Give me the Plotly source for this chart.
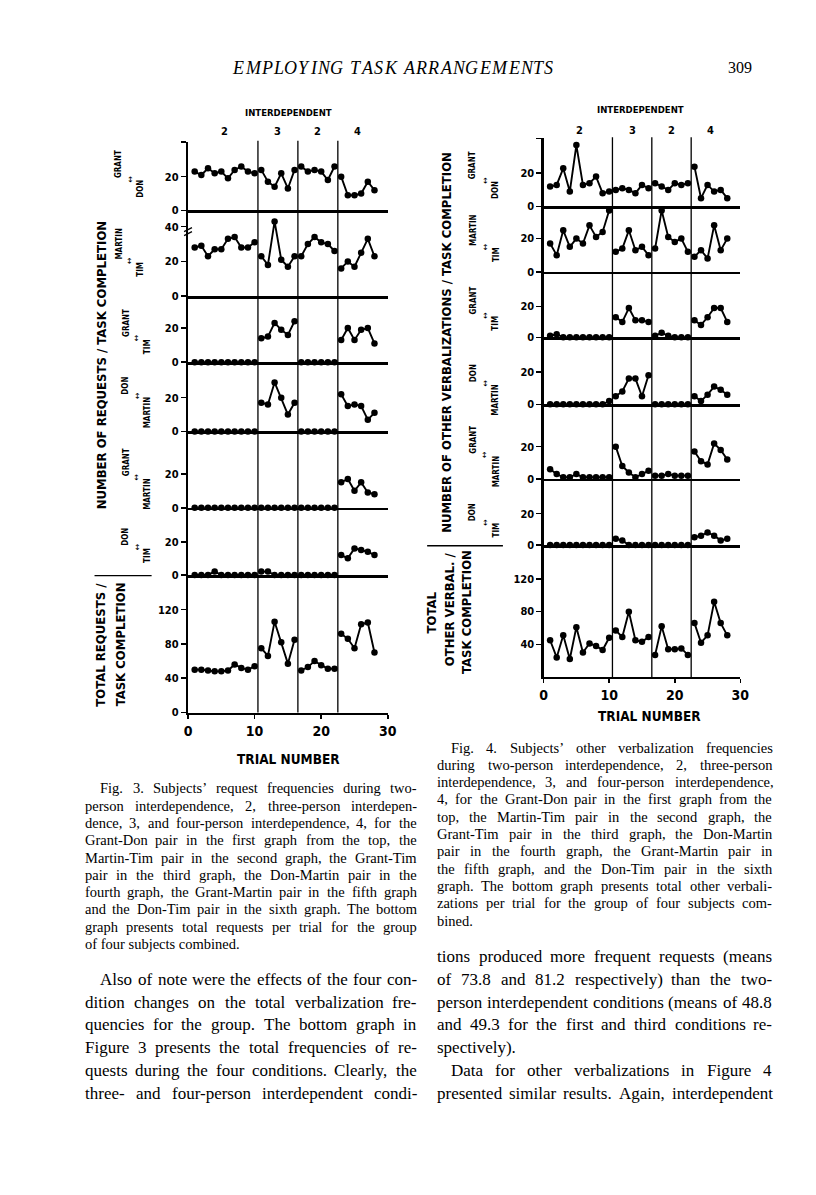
import plotly.graph_objects as go

W, H = 816, 1195

# ---------------- data ----------------
trials = list(range(1, 29))
phase_lengths = [10, 6, 6, 6]
phase_names = ["2", "3", "2", "4"]
phase_boundaries = [10.5, 16.5, 22.5]
x_ticks = [0, 10, 20, 30]

pair_names = [("GRANT", "DON"), ("MARTIN", "TIM"), ("GRANT", "TIM"),
              ("DON", "MARTIN"), ("GRANT", "MARTIN"), ("DON", "TIM")]

# Fig. 3 : requests / task completion
req_grant_don = [23, 21, 25, 22, 23, 19, 24, 26, 23, 22,
                 24, 17, 14, 22, 13, 24,
                 26, 23, 24, 23, 18, 26,
                 20, 9, 9, 10, 17, 12]
req_martin_tim = [28, 29, 23, 27, 27, 33, 34, 28, 28, 31,
                  23, 18, 43, 21, 17, 23,
                  23, 30, 34, 31, 30, 26,
                  16, 20, 17, 25, 33, 23]
req_grant_tim = [0, 0, 0, 0, 0, 0, 0, 0, 0, 0,
                 14, 15, 23, 19, 16, 24,
                 0, 0, 0, 0, 0, 0,
                 13, 20, 13, 19, 20, 11]
req_don_martin = [0, 0, 0, 0, 0, 0, 0, 0, 0, 0,
                  17, 16, 29, 20, 10, 17,
                  0, 0, 0, 0, 0, 0,
                  22, 15, 16, 15, 7, 11]
req_grant_martin = [0, 0, 0, 0, 0, 0, 0, 0, 0, 0,
                    0, 0, 0, 0, 0, 0,
                    0, 0, 0, 0, 0, 0,
                    15, 17, 10, 15, 9, 8]
req_don_tim = [0, 0, 0, 2, 0, 0, 0, 0, 0, 0,
               2, 2, 0, 0, 0, 0,
               0, 0, 0, 0, 0, 0,
               12, 10, 16, 15, 14, 12]
req_total = [50, 50, 49, 48, 48, 49, 56, 52, 50, 54,
             75, 66, 106, 82, 57, 85,
             49, 53, 60, 55, 51, 51,
             92, 86, 75, 103, 105, 70]

# Fig. 4 : other verbalizations / task completion
oth_grant_don = [12, 13, 23, 9, 37, 13, 14, 18, 8, 9,
                 10, 11, 10, 8, 13, 11,
                 14, 12, 10, 14, 13, 14,
                 24, 5, 13, 9, 10, 5]
oth_martin_tim = [17, 10, 25, 15, 20, 17, 28, 21, 24, 37,
                  12, 14, 25, 13, 15, 10,
                  14, 37, 21, 18, 20, 12,
                  9, 13, 8, 28, 13, 20]
oth_grant_tim = [1, 2, 0, 0, 0, 0, 0, 0, 0, 0,
                 13, 10, 19, 11, 11, 10,
                 1, 3, 1, 0, 0, 0,
                 11, 8, 13, 19, 19, 10]
oth_don_martin = [0, 0, 0, 0, 0, 0, 0, 0, 0, 2,
                  5, 8, 16, 16, 5, 18,
                  0, 0, 0, 0, 0, 0,
                  5, 2, 6, 11, 9, 6]
oth_grant_martin = [6, 3, 1, 1, 3, 1, 1, 1, 1, 1,
                    20, 8, 4, 1, 3, 5,
                    2, 2, 3, 2, 2, 2,
                    17, 11, 9, 22, 18, 12]
oth_don_tim = [0, 0, 0, 0, 0, 0, 0, 0, 0, 0,
               4, 3, 0, 0, 0, 0,
               0, 0, 0, 0, 0, 0,
               5, 6, 8, 6, 3, 4]
oth_total = [45, 24, 51, 22, 61, 30, 41, 38, 33, 48,
             57, 49, 80, 45, 43, 49,
             27, 62, 34, 34, 35, 27,
             66, 42, 51, 92, 66, 51]

fig3_series = [req_grant_don, req_martin_tim, req_grant_tim, req_don_martin,
               req_grant_martin, req_don_tim, req_total]
fig4_series = [oth_grant_don, oth_martin_tim, oth_grant_tim, oth_don_martin,
               oth_grant_martin, oth_don_tim, oth_total]

fig3_yticks = [[0, 20], [0, 20, 40], [0, 20], [0, 20], [0, 20], [0, 20], [0, 40, 80, 120]]
fig4_yticks = [[0, 20], [0, 20], [0, 20], [0, 20], [0, 20], [0, 20], [40, 80, 120]]

header_text = "EMPLOYING TASK ARRANGEMENTS"
page_number = "309"
fig3_ylabel = "NUMBER OF REQUESTS / TASK COMPLETION"
fig3_total_label = ["TOTAL REQUESTS /", "TASK COMPLETION"]
fig4_ylabel = "NUMBER OF OTHER VERBALIZATIONS / TASK COMPLETION"
fig4_total_label = ["TOTAL", "OTHER VERBAL. /", "TASK COMPLETION"]
condition_title = "INTERDEPENDENT"
xaxis_title = "TRIAL NUMBER"

caption3 = [
    "Fig. 3. Subjects’ request frequencies during two-",
    "person interdependence, 2, three-person interdepen-",
    "dence, 3, and four-person interdependence, 4, for the",
    "Grant-Don pair in the first graph from the top, the",
    "Martin-Tim pair in the second graph, the Grant-Tim",
    "pair in the third graph, the Don-Martin pair in the",
    "fourth graph, the Grant-Martin pair in the fifth graph",
    "and the Don-Tim pair in the sixth graph. The bottom",
    "graph presents total requests per trial for the group",
    "of four subjects combined.",
]
caption4 = [
    "Fig. 4. Subjects’ other verbalization frequencies",
    "during two-person interdependence, 2, three-person",
    "interdependence, 3, and four-person interdependence,",
    "4, for the Grant-Don pair in the first graph from the",
    "top, the Martin-Tim pair in the second graph, the",
    "Grant-Tim pair in the third graph, the Don-Martin",
    "pair in the fourth graph, the Grant-Martin pair in",
    "the fifth graph, and the Don-Tim pair in the sixth",
    "graph. The bottom graph presents total other verbali-",
    "zations per trial for the group of four subjects com-",
    "bined.",
]
body_left = [
    "Also of note were the effects of the four con-",
    "dition changes on the total verbalization fre-",
    "quencies for the group. The bottom graph in",
    "Figure 3 presents the total frequencies of re-",
    "quests during the four conditions. Clearly, the",
    "three- and four-person interdependent condi-",
]
body_right_1 = [
    "tions produced more frequent requests (means",
    "of 73.8 and 81.2 respectively) than the two-",
    "person interdependent conditions (means of 48.8",
    "and 49.3 for the first and third conditions re-",
    "spectively).",
]
body_right_2 = [
    "Data for other verbalizations in Figure 4",
    "presented similar results. Again, interdependent",
]

# ---------------- geometry (pixels) ----------------
NARROW = ("'Liberation Sans Narrow', 'DejaVu Sans Condensed', 'Roboto Condensed', "
          "'Arial Narrow', 'Liberation Sans', Roboto, sans-serif")
SERIF = "'Liberation Serif', 'DejaVu Serif', serif"


def px(x):
    return x / W


def py(y):
    return 1 - y / H


# (zero line px, top px, px per unit)
fig3_geo = [(211.7, 143.0, 1.70), (298.0, 211.7, 1.75), (364.3, 298.0, 1.715),
            (434.0, 364.3, 1.70), (510.7, 434.0, 1.70), (578.3, 510.7, 1.665),
            (716.7, 578.3, 0.862)]
fig4_geo = [(207.7, 139.3, 1.67), (273.3, 207.7, 1.665), (339.3, 273.3, 1.55),
            (406.7, 339.3, 1.62), (481.7, 406.7, 1.62), (548.3, 481.7, 1.58),
            (681.0, 548.3, 0.822)]
fig3_x = (187.0, 390.0)
fig4_x = (548.3, 748.3)

fig = go.Figure()
layout = dict(width=W, height=H, margin=dict(l=0, r=0, t=0, b=0),
              paper_bgcolor="white", plot_bgcolor="white", showlegend=False)
annotations = []
shapes = []


def seg(values):
    xs, ys, i = [], [], 0
    for L in phase_lengths:
        xs += trials[i:i + L] + [None]
        ys += values[i:i + L] + [None]
        i += L
    return xs, ys


def build(series, geo, xdom, yticks, offset, top_tick):
    n = len(series)
    for k in range(n):
        idx = offset + k + 1
        zero, top, scale = geo[k]
        rtop = (zero - top) / scale
        xs, ys = seg(series[k])
        fig.add_trace(go.Scatter(
            x=xs, y=ys, xaxis="x%d" % idx, yaxis="y%d" % idx,
            mode="lines+markers", cliponaxis=False, connectgaps=False,
            line=dict(color="black", width=1.9),
            marker=dict(color="black", size=6.5), hoverinfo="skip"))
        bottom = (k == n - 1)
        tv = list(yticks[k])
        tt = [str(v) for v in tv]
        if k == 0 and top_tick:
            tv.append(rtop)
            tt.append("")
        if bottom and offset == 7:
            tv.append(rtop)
            tt.append("")
        layout["xaxis%d" % idx] = dict(
            domain=[px(xdom[0]), px(xdom[1])], range=[0, 30], anchor="y%d" % idx,
            showline=True, linecolor="black", linewidth=2.6 if not bottom else 2.2,
            showgrid=False, zeroline=False,
            tickvals=x_ticks if bottom else [], showticklabels=bottom,
            ticks="outside" if bottom else "", ticklen=4, tickwidth=1.6, tickcolor="black",
            tickfont=dict(family=NARROW, size=14, color="black", weight="bold"),
            fixedrange=True)
        layout["yaxis%d" % idx] = dict(
            domain=[py(zero), py(top)], range=[0, rtop], anchor="x%d" % idx,
            showline=True, linecolor="black", linewidth=2.2, showgrid=False,
            zeroline=False, tickvals=tv, ticktext=tt, ticks="outside", ticklen=5,
            tickwidth=1.6, tickcolor="black",
            tickfont=dict(family=NARROW, size=11, color="black", weight="bold"),
            fixedrange=True)


build(fig3_series, fig3_geo, fig3_x, fig3_yticks, 0, True)
build(fig4_series, fig4_geo, fig4_x, fig4_yticks, 7, True)


def ann(x, y, text, size, family=NARROW, bold=True, angle=0, xanchor="center",
        yanchor="middle", xref="paper", italic=False):
    annotations.append(dict(
        x=x if xref != "paper" else px(x), y=py(y), xref=xref, yref="paper",
        text=text, showarrow=False, textangle=angle, xanchor=xanchor, yanchor=yanchor,
        font=dict(family=family, size=size, color="black",
                  weight="bold" if bold else "normal",
                  style="italic" if italic else "normal")))


def decorate(xref, top_px, bottom_px, title_xy, num_y, ylabel, ylabel_xy,
             total_lines, total_xy, pair_rows, pair_cols, sep, trial_xy):
    # phase change lines
    for b in phase_boundaries:
        shapes.append(dict(type="line", xref=xref, yref="paper", x0=b, x1=b,
                           y0=py(bottom_px), y1=py(top_px),
                           line=dict(color="black", width=1.3)))
    # condition labels
    ann(title_xy[0], title_xy[1], condition_title, 9.5)
    start = 0
    for L, name in zip(phase_lengths, phase_names):
        centre = (trials[start] + trials[start + L - 1]) / 2
        ann(centre, num_y, name, 11, xref=xref)
        start += L
    ann(ylabel_xy[0], ylabel_xy[1], ylabel, 13, angle=-90)
    for (tx, ty), t in zip(total_xy, total_lines):
        ann(tx, ty, t, 13, angle=-90)
    for r, (a, b) in enumerate(pair_names):
        yc = pair_rows[r]
        c1, c2, c3 = pair_cols[r]
        ann(c1, yc + 1, a, 8, angle=-90, yanchor="bottom")
        ann(c2, yc, "↔", 8.5, angle=-90, bold=False)
        ann(c3, yc - 1, b, 8, angle=-90, yanchor="top")
    shapes.append(dict(type="line", xref="paper", yref="paper",
                       x0=px(sep[0]), x1=px(sep[1]), y0=py(sep[2]), y1=py(sep[2]),
                       line=dict(color="black", width=1.4)))
    ann(trial_xy[0], trial_xy[1], xaxis_title, 13.5)


decorate("x7", 141.5, 716.7, (289, 113), 132, fig3_ylabel, (99, 367),
         fig3_total_label, [(98, 648), (118, 648)],
         [180, 262, 340, 398, 480, 550],
         [(117, 127.5, 139)] * 2 + [(124, 134.5, 146)] * 4,
         (92, 150, 579), (289, 763))
decorate("x14", 138.0, 681.0, (647, 110), 131, fig4_ylabel, (450, 344),
         fig4_total_label, [(434, 616), (453, 613), (470, 616)],
         [181, 248, 317, 385, 457, 525],
         [(477, 488.5, 500)] * 6,
         (430, 507, 549), (656, 720))

# axis break marks on the Martin-Tim panel of Fig. 3
for dy in (0, 4):
    shapes.append(dict(type="line", xref="paper", yref="paper",
                       x0=px(183), x1=px(191), y0=py(233 + dy), y1=py(229 + dy),
                       line=dict(color="black", width=1.3)))

# ---------------- page text ----------------
TIMES = {' ': 250, '!': 333, '(': 333, ')': 333, ',': 250, '-': 333, '.': 250,
         '/': 278, ':': 278, ';': 278, '’': 333, "'": 333,
         'A': 722, 'B': 667, 'C': 667, 'D': 722, 'E': 611, 'F': 556, 'G': 722,
         'H': 722, 'I': 333, 'J': 389, 'K': 722, 'L': 611, 'M': 889, 'N': 722,
         'O': 722, 'P': 556, 'Q': 722, 'R': 667, 'S': 556, 'T': 611, 'U': 722,
         'V': 722, 'W': 944, 'X': 722, 'Y': 722, 'Z': 611,
         'a': 444, 'b': 500, 'c': 444, 'd': 500, 'e': 444, 'f': 333, 'g': 500,
         'h': 500, 'i': 278, 'j': 278, 'k': 500, 'l': 278, 'm': 778, 'n': 500,
         'o': 500, 'p': 500, 'q': 500, 'r': 333, 's': 389, 't': 278, 'u': 500,
         'v': 500, 'w': 722, 'x': 500, 'y': 500, 'z': 444}
TIMES_ITALIC_CAPS = {'A': 611, 'E': 611, 'G': 722, 'I': 333, 'K': 667, 'L': 556,
                     'M': 833, 'N': 667, 'O': 722, 'P': 611, 'R': 611, 'S': 500,
                     'T': 556, 'Y': 556, ' ': 250}


def tw(s, size):
    return sum(TIMES.get(c, 500) for c in s) / 1000.0 * size


def paragraph(lines, xl, xr, y0, dy, size, indent, last_ragged):
    for i, line in enumerate(lines):
        left = xl + (indent if i == 0 else 0)
        y = y0 + i * dy
        words = line.split(" ")
        if (i == len(lines) - 1 and last_ragged) or len(words) == 1:
            ann(left, y, line, size, family=SERIF, bold=False, xanchor="left")
            continue
        widths = [tw(w, size) for w in words]
        gap = (xr - left - sum(widths)) / (len(words) - 1)
        x = left
        for w, wd in zip(words, widths):
            ann(x, y, w, size, family=SERIF, bold=False, xanchor="left")
            x += wd + gap


CAP = 14.5
BODY = 17
paragraph(caption3, 80, 417, 793, 17.4, CAP, 16, True)
paragraph(caption4, 438, 778, 752, 17.4, CAP, 14, True)
paragraph(body_left, 80, 417, 985, 23, BODY, 16, False)
paragraph(body_right_1, 438, 778, 962, 23, BODY, 0, True)
paragraph(body_right_2, 438, 778, 1077, 23, BODY, 14, False)

# running head, letter-spaced across its printed width
HEAD_SIZE = 18
head_left, head_right = 230.0, 556.0
widths = [TIMES_ITALIC_CAPS.get(c, 600) / 1000.0 * HEAD_SIZE for c in header_text]
spacing = (head_right - head_left - sum(widths)) / (len(header_text) - 1)
hx = head_left
for ch, wd in zip(header_text, widths):
    if ch != " ":
        ann(hx, 68, ch, HEAD_SIZE, family=SERIF, bold=False, italic=True, xanchor="left")
    hx += wd + spacing
ann(748, 68, page_number, 16, family=SERIF, bold=False)

layout["annotations"] = annotations
layout["shapes"] = shapes
fig.update_layout(**layout)
fig.write_html("out.html", config={"staticPlot": True},
               post_script="document.body.style.margin='0';")
